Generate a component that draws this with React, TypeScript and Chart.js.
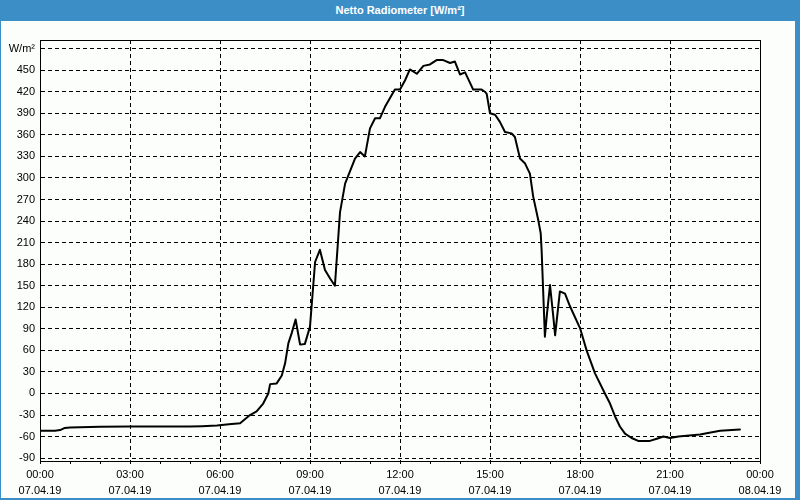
import { useEffect, useRef } from "react";
import { Chart, registerables } from "chart.js";

Chart.register(...registerables);

const chartTitle = "Netto Radiometer [W/m²]";
const unitLabel = "W/m²";
const dateLabels = ["07.04.19", "08.04.19"];

// time in hours since 07.04.19 00:00
const hours = [
  0, 0.5, 0.67, 0.83, 1.0, 2.0, 3.0, 4.0, 5.0, 5.4, 5.9, 6.3, 6.67, 7.0, 7.22, 7.44,
  7.61, 7.67, 7.89, 8.06, 8.17, 8.28, 8.39, 8.52, 8.67, 8.83, 9.0, 9.17, 9.33, 9.5,
  9.67, 9.83, 10.0, 10.17, 10.5, 10.67, 10.83, 11.0, 11.17, 11.33, 11.5, 11.83, 12.0,
  12.17, 12.33, 12.56, 12.78, 13.0, 13.22, 13.44, 13.67, 13.83, 14.0, 14.17, 14.44,
  14.72, 14.83, 14.89, 15.0, 15.17, 15.33, 15.5, 15.72, 15.83, 16.0, 16.17, 16.33,
  16.44, 16.61, 16.69, 16.72, 16.83, 16.89, 17.0, 17.11, 17.17, 17.33, 17.5, 17.67,
  18.0, 18.22, 18.5, 18.83, 19.0, 19.17, 19.33, 19.5, 19.72, 19.94, 20.33, 20.56,
  20.78, 21.0, 21.28, 22.0, 22.67, 23.33,
];

const values = [
  -52, -52, -51, -48, -47.5, -46.5, -46, -46, -46, -45.5, -44.5, -43, -41.5, -30, -25, -14,
  0, 13, 14, 25, 42, 70, 84, 103, 68, 69, 93, 183, 200, 172,
  160, 150, 252, 292, 327, 336, 330, 369, 383, 383, 399, 423, 423,
  436, 451, 445, 456, 458, 464, 464, 460, 462, 444, 447, 423,
  423, 420, 417, 390, 388, 378, 364, 362, 357, 327, 320, 306,
  274, 241, 223, 200, 79, 107, 151, 107, 81, 142, 139, 121,
  91, 60, 28, 0, -14, -32, -46, -56, -62, -66, -66, -63,
  -60, -62, -60, -57, -52, -50,
];

const xTickHours = [
  0, 1, 2, 3, 4, 5, 6, 7, 8, 9, 10, 11, 12, 13, 14, 15, 16, 17, 18, 19, 20, 21, 22, 23, 24,
];
const yTickValues = [-90, -60, -30, 0, 30, 60, 90, 120, 150, 180, 210, 240, 270, 300, 330, 360, 390, 420, 450, 480];

const FONT = { family: "'Liberation Sans', Arial, sans-serif", size: 11 };

const framePlugin = {
  id: "frame",
  afterDraw(chart: any) {
    const { ctx, chartArea } = chart;
    ctx.save();
    ctx.strokeStyle = "#000";
    ctx.lineWidth = 1;
    ctx.setLineDash([]);
    ctx.strokeRect(
      Math.round(chartArea.left) + 0.5,
      Math.round(chartArea.top) + 0.5,
      Math.round(chartArea.right - chartArea.left),
      Math.round(chartArea.bottom - chartArea.top)
    );
    ctx.restore();
  },
};

export default function App() {
  const canvasRef = useRef<HTMLCanvasElement | null>(null);

  useEffect(() => {
    const canvas = canvasRef.current;
    if (!canvas) return;
    const chart = new Chart(canvas, {
      type: "line",
      data: {
        datasets: [
          {
            data: hours.map((h, i) => ({ x: h, y: values[i] })),
            borderColor: "#000",
            borderWidth: 2,
            borderJoinStyle: "round",
            borderCapStyle: "round",
            pointRadius: 0,
            tension: 0,
            fill: false,
          },
        ],
      },
      options: {
        responsive: false,
        animation: false,
        devicePixelRatio: 1,
        layout: { padding: { top: 40, right: 40, left: 0, bottom: 0 } },
        plugins: {
          legend: { display: false },
          tooltip: { enabled: false },
          title: { display: false },
        },
        scales: {
          x: {
            type: "linear",
            min: 0,
            max: 24,
            afterBuildTicks: (axis: any) => {
              axis.ticks = xTickHours.map((v) => ({ value: v }));
            },
            afterFit: (axis: any) => {
              axis.height = 39;
            },
            ticks: {
              autoSkip: false,
              maxRotation: 0,
              minRotation: 0,
              color: "#000",
              font: { ...FONT, lineHeight: 1.45 },
              padding: 3,
              callback: (v: any) => {
                const h = Number(v);
                if (h % 3 !== 0) return "";
                const hh = String(h % 24).padStart(2, "0") + ":00";
                return [hh, dateLabels[h < 24 ? 0 : 1]];
              },
            },
            grid: {
              color: (ctx: any) =>
                ctx.tick && ctx.tick.value % 3 === 0 ? "#000" : "rgba(0,0,0,0)",
              tickColor: "#000",
              tickLength: 3,
              lineWidth: 1,
              tickBorderDash: [],
            },
            border: { display: true, color: "#000", width: 1, dash: [4, 3] },
          },
          y: {
            type: "linear",
            min: -94,
            max: 492,
            afterBuildTicks: (axis: any) => {
              axis.ticks = yTickValues.map((v) => ({ value: v }));
            },
            afterFit: (axis: any) => {
              axis.width = 40;
            },
            ticks: {
              color: "#000",
              font: FONT,
              padding: 5,
              autoSkip: false,
              callback: (v: any) => (Number(v) === 480 ? unitLabel : String(v)),
            },
            grid: {
              color: "#000",
              lineWidth: 1,
              drawTicks: false,
            },
            border: { display: true, color: "#000", width: 1, dash: [4, 3] },
          },
        },
      },
      plugins: [framePlugin],
    } as any);
    return () => chart.destroy();
  }, []);

  return (
    <div
      style={{
        position: "absolute",
        left: 0,
        top: 0,
        width: 800,
        height: 500,
        background: "#3c8fc6",
        overflow: "hidden",
      }}
    >
      <div
        style={{
          position: "absolute",
          left: 0,
          top: 0,
          width: 800,
          height: 21,
          lineHeight: "21px",
          textAlign: "center",
          color: "#fff",
          fontFamily: "'Liberation Sans', Arial, sans-serif",
          fontWeight: "bold",
          fontSize: 11,
        }}
      >
        {chartTitle}
      </div>
      <div
        style={{
          position: "absolute",
          left: 1,
          top: 21,
          width: 794,
          height: 477,
          background: "#fcfefc",
        }}
      />
      <canvas
        ref={canvasRef}
        width={800}
        height={500}
        style={{ position: "absolute", left: 0, top: 0, width: 800, height: 500 }}
      />
    </div>
  );
}
